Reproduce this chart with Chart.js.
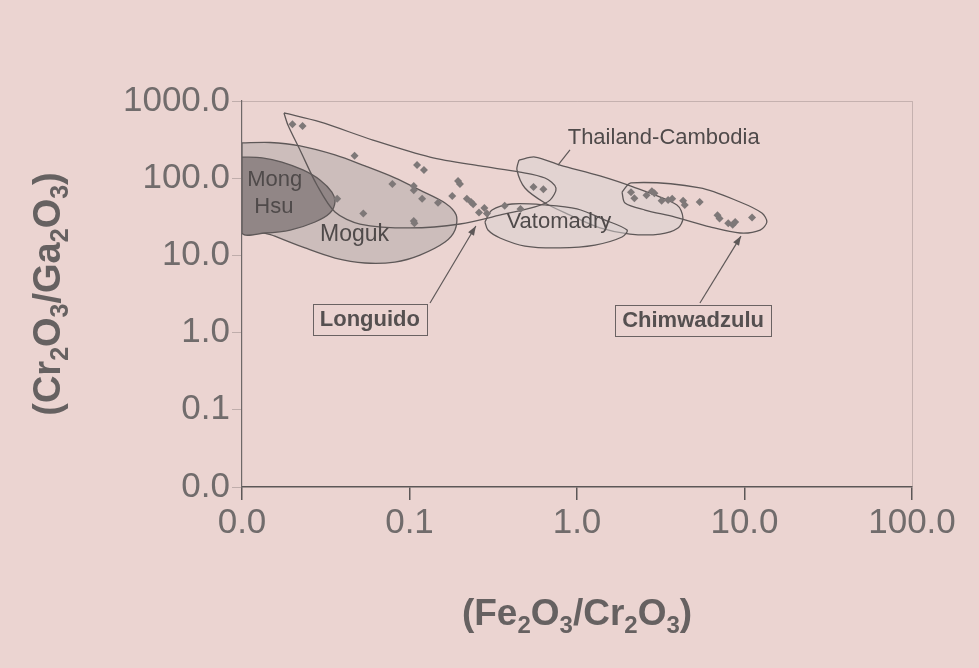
<!DOCTYPE html>
<html>
<head>
<meta charset="utf-8">
<title>Cr2O3/Ga2O3 vs Fe2O3/Cr2O3</title>
<script src="https://cdn.jsdelivr.net/npm/chart.js@4.4.1/dist/chart.umd.min.js"></script>
<style>
  html, body { margin: 0; padding: 0; background: #ebd4d1; }
  canvas { display: block; }
</style>
</head>
<body>
<canvas id="chart" width="979" height="668"></canvas>
<script>
// decade ticks on both log axes
const xTicks = [0.01, 0.1, 1, 10, 100];
const yTicks = [0.01, 0.1, 1, 10, 100, 1000];

// analysed samples: Fe2O3/Cr2O3 (x) and Cr2O3/Ga2O3 (y)
const sampleFe = [0.020, 0.023, 0.047, 0.111, 0.122, 0.079, 0.106, 0.106, 0.119, 0.148,
                  0.037, 0.053, 0.106, 0.107, 0.195, 0.20, 0.18, 0.22, 0.233, 0.24,
                  0.26, 0.28, 0.29, 0.37, 0.46, 0.55, 0.63, 2.1, 2.2, 2.8,
                  2.9, 2.6, 3.2, 3.5, 3.7, 4.3, 4.4, 5.4, 6.9, 7.1,
                  8.0, 8.5, 8.8, 11.1];
const sampleCr = [500, 475, 195, 148, 128, 84, 79, 70, 54, 48,
                  54, 35, 28, 26, 92, 84, 59, 54, 49, 46,
                  36, 41, 35, 44, 40, 77, 72, 66, 55, 68,
                  64, 60, 51, 52, 54, 51, 45, 49, 33, 30,
                  26, 25, 27, 31];

// field outlines (same axes)
const mongHsuX = [0.01, 0.0132, 0.0173, 0.0231, 0.0292, 0.0344, 0.0359, 0.0335, 0.0273, 0.0194, 0.0137, 0.01];
const mongHsuY = [188, 183, 162, 128, 95, 66, 49, 35.4, 27.1, 21.3, 19.5, 19.5];

const mogukX = [0.01, 0.0147, 0.0222, 0.0359, 0.0542, 0.0818, 0.1155, 0.163, 0.19, 0.187, 0.163, 0.1155, 0.0818, 0.0542, 0.0359, 0.0238, 0.0157, 0.01];
const mogukY = [286, 290, 262, 200, 144, 101, 70, 47.7, 33.3, 21.3, 14.9, 10.1, 8.2, 7.97, 9.25, 12.5, 17.8, 27];

const longuidoX = [0.0178, 0.0292, 0.0605, 0.1326, 0.264, 0.457, 0.644, 0.749, 0.69, 0.561, 0.3715, 0.2, 0.1007, 0.0506, 0.0359, 0.028, 0.0222, 0.0188];
const longuidoY = [700, 535, 312, 188, 144, 120, 100.6, 74.6, 52, 42.4, 34.4, 25.5, 22.7, 25.5, 36.5, 81.7, 232, 489];

const thaiX = [0.45, 0.561, 0.792, 1.372, 2.16, 3.95, 4.29, 4.01, 3.13, 2.07, 1.372, 0.908, 0.644, 0.489, 0.438];
const thaiY = [172, 188, 148, 107, 77, 45, 30.5, 22.7, 18.9, 18.9, 22.7, 33.3, 47.7, 74.6, 128];

const vatoX = [0.282, 0.311, 0.409, 0.644, 1.0, 1.47, 1.99, 1.857, 1.28, 0.792, 0.489, 0.347, 0.294];
const vatoY = [27.1, 38.7, 46.3, 45, 40, 28.7, 21.3, 17.3, 13.6, 12.5, 13.2, 16.8, 21.3];

const chimX = [1.857, 2.1, 5.42, 9.40, 12.7, 13.6, 12.4, 9.40, 6.22, 3.85, 2.547, 1.935];
const chimY = [66, 87, 75, 49.2, 35.4, 27.1, 21.3, 19.5, 23.4, 31.4, 38.7, 47.7];

const FONT = "'Liberation Sans', Arial, sans-serif";
const INK = '#5e5858';

function zip(xs, ys, close) {
  const pts = xs.map((x, i) => ({ x: x, y: ys[i] }));
  if (close) pts.push({ x: xs[0], y: ys[0] });
  return pts;
}

function field(xs, ys, fillColor) {
  return {
    data: zip(xs, ys, true),
    showLine: true,
    fill: fillColor ? 'shape' : false,
    backgroundColor: fillColor || 'transparent',
    borderColor: INK,
    borderWidth: 1.3,
    tension: 0.3,
    pointRadius: 0
  };
}

// text placed on the plot, anchored in data units
const fieldLabels = [
  { text: 'Mong', x: 0.0157, y: 95, size: 22 },
  { text: 'Hsu', x: 0.0155, y: 42, size: 22 },
  { text: 'Moguk', x: 0.047, y: 18.4, size: 23 },
  { text: 'Vatomadry', x: 0.78, y: 27, size: 22 },
  { text: 'Thailand-Cambodia', x: 0.88, y: 332, size: 22, align: 'left' }
];
const boxedLabels = [
  { text: 'Longuido', x: 0.058, y: 1.50 },
  { text: 'Chimwadzulu', x: 4.93, y: 1.46 }
];
const pointers = [
  { from: [0.1326, 2.42], to: [0.249, 24], head: true },
  { from: [5.42, 2.42], to: [9.53, 17.8], head: true },
  { from: [0.908, 232], to: [0.770, 148], head: false }
];
const xTitle = [['(Fe', 0], ['2', 1], ['O', 0], ['3', 1], ['/Cr', 0], ['2', 1], ['O', 0], ['3', 1], [')', 0]];
const yTitle = [['(Cr', 0], ['2', 1], ['O', 0], ['3', 1], ['/Ga', 0], ['2', 1], ['O', 0], ['3', 1], [')', 0]];

// title with real subscripts, centred on (0,0) of the current transform
function drawRuns(ctx, runs, size) {
  const parts = runs.map(([text, sub]) => {
    const fs = sub ? Math.round(size * 0.66) : size;
    ctx.font = 'bold ' + fs + 'px ' + FONT;
    return { text: text, sub: sub, fs: fs, w: ctx.measureText(text).width };
  });
  const total = parts.reduce((s, p) => s + p.w, 0);
  let x = -total / 2;
  ctx.textAlign = 'left';
  ctx.textBaseline = 'alphabetic';
  for (const p of parts) {
    ctx.font = 'bold ' + p.fs + 'px ' + FONT;
    ctx.fillText(p.text, x, size * 0.36 + (p.sub ? size * 0.22 : 0));
    x += p.w;
  }
}

const annotate = {
  id: 'annotate',
  afterDatasetsDraw(chart) {
    const { ctx, chartArea: a, scales: { x, y } } = chart;
    ctx.save();
    // faint frame on the open sides
    ctx.strokeStyle = 'rgba(110,95,95,0.3)';
    ctx.lineWidth = 1;
    ctx.beginPath();
    ctx.moveTo(a.left, a.top + 0.5);
    ctx.lineTo(a.right + 0.5, a.top + 0.5);
    ctx.lineTo(a.right + 0.5, a.bottom);
    ctx.stroke();

    ctx.strokeStyle = INK;
    ctx.fillStyle = INK;
    ctx.lineWidth = 1.2;
    for (const p of pointers) {
      const x0 = x.getPixelForValue(p.from[0]), y0 = y.getPixelForValue(p.from[1]);
      const x1 = x.getPixelForValue(p.to[0]), y1 = y.getPixelForValue(p.to[1]);
      ctx.beginPath();
      ctx.moveTo(x0, y0);
      ctx.lineTo(x1, y1);
      ctx.stroke();
      if (p.head) {
        const ang = Math.atan2(y1 - y0, x1 - x0);
        ctx.beginPath();
        ctx.moveTo(x1, y1);
        ctx.lineTo(x1 - 10 * Math.cos(ang - 0.35), y1 - 10 * Math.sin(ang - 0.35));
        ctx.lineTo(x1 - 10 * Math.cos(ang + 0.35), y1 - 10 * Math.sin(ang + 0.35));
        ctx.closePath();
        ctx.fill();
      }
    }

    ctx.textBaseline = 'middle';
    for (const l of fieldLabels) {
      ctx.font = l.size + 'px ' + FONT;
      ctx.textAlign = l.align || 'center';
      ctx.fillStyle = '#4f4a4a';
      ctx.fillText(l.text, x.getPixelForValue(l.x), y.getPixelForValue(l.y));
    }

    ctx.font = 'bold 22px ' + FONT;
    ctx.textAlign = 'center';
    for (const l of boxedLabels) {
      const cx = x.getPixelForValue(l.x), cy = y.getPixelForValue(l.y);
      const w = ctx.measureText(l.text).width + 14;
      ctx.fillStyle = '#ebd4d1';
      ctx.fillRect(cx - w / 2, cy - 15, w, 31);
      ctx.strokeStyle = '#6a6262';
      ctx.lineWidth = 1;
      ctx.strokeRect(Math.round(cx - w / 2) + 0.5, Math.round(cy - 15) + 0.5, Math.round(w), 31);
      ctx.fillStyle = '#555050';
      ctx.fillText(l.text, cx, cy + 1);
    }
    ctx.restore();
  },
  afterDraw(chart) {
    const { ctx, chartArea: a } = chart;
    ctx.save();
    ctx.fillStyle = '#666161';
    ctx.translate((a.left + a.right) / 2, 612);
    drawRuns(ctx, xTitle, 37);
    ctx.restore();
    ctx.save();
    ctx.fillStyle = '#666161';
    ctx.translate(46, (a.top + a.bottom) / 2);
    ctx.rotate(-Math.PI / 2);
    drawRuns(ctx, yTitle, 38);
    ctx.restore();
  }
};

const tickFont = { family: FONT, size: 35 };

new Chart(document.getElementById('chart'), {
  type: 'scatter',
  data: {
    datasets: [
      {
        data: zip(sampleFe, sampleCr, false),
        pointStyle: 'rectRot',
        pointRadius: 4,
        backgroundColor: '#7e7878',
        borderWidth: 0
      },
      field(chimX, chimY, null),
      field(longuidoX, longuidoY, null),
      field(vatoX, vatoY, 'rgba(218,210,210,0.5)'),
      field(thaiX, thaiY, 'rgba(218,210,210,0.55)'),
      field(mongHsuX, mongHsuY, '#918686'),
      field(mogukX, mogukY, '#ccbdbb')
    ]
  },
  options: {
    responsive: false,
    animation: false,
    layout: { padding: { left: 0, right: 67, top: 101, bottom: 0 } },
    plugins: { legend: { display: false }, tooltip: { enabled: false } },
    scales: {
      x: {
        type: 'logarithmic',
        min: 0.01,
        max: 100,
        afterBuildTicks: s => { s.ticks = xTicks.map(v => ({ value: v })); },
        afterFit: s => { s.height = 181; },
        ticks: {
          callback: v => Number(v).toFixed(1),
          font: tickFont,
          color: '#716c6c',
          padding: 2,
          maxRotation: 0,
          autoSkip: false
        },
        grid: { drawOnChartArea: false, tickLength: 13, color: '#5c5757', lineWidth: 1.5 },
        border: { color: '#5c5757', width: 1.5 }
      },
      y: {
        type: 'logarithmic',
        min: 0.01,
        max: 1000,
        afterBuildTicks: s => { s.ticks = yTicks.map(v => ({ value: v })); },
        afterFit: s => { s.width = 242; },
        ticks: {
          callback: v => Number(v).toFixed(1),
          font: tickFont,
          color: '#716c6c',
          padding: 2,
          autoSkip: false
        },
        grid: { drawOnChartArea: false, tickLength: 10, color: 'rgba(110,100,100,0.35)' },
        border: { color: '#6e6868', width: 1.2 }
      }
    }
  },
  plugins: [annotate]
});
</script>
</body>
</html>
